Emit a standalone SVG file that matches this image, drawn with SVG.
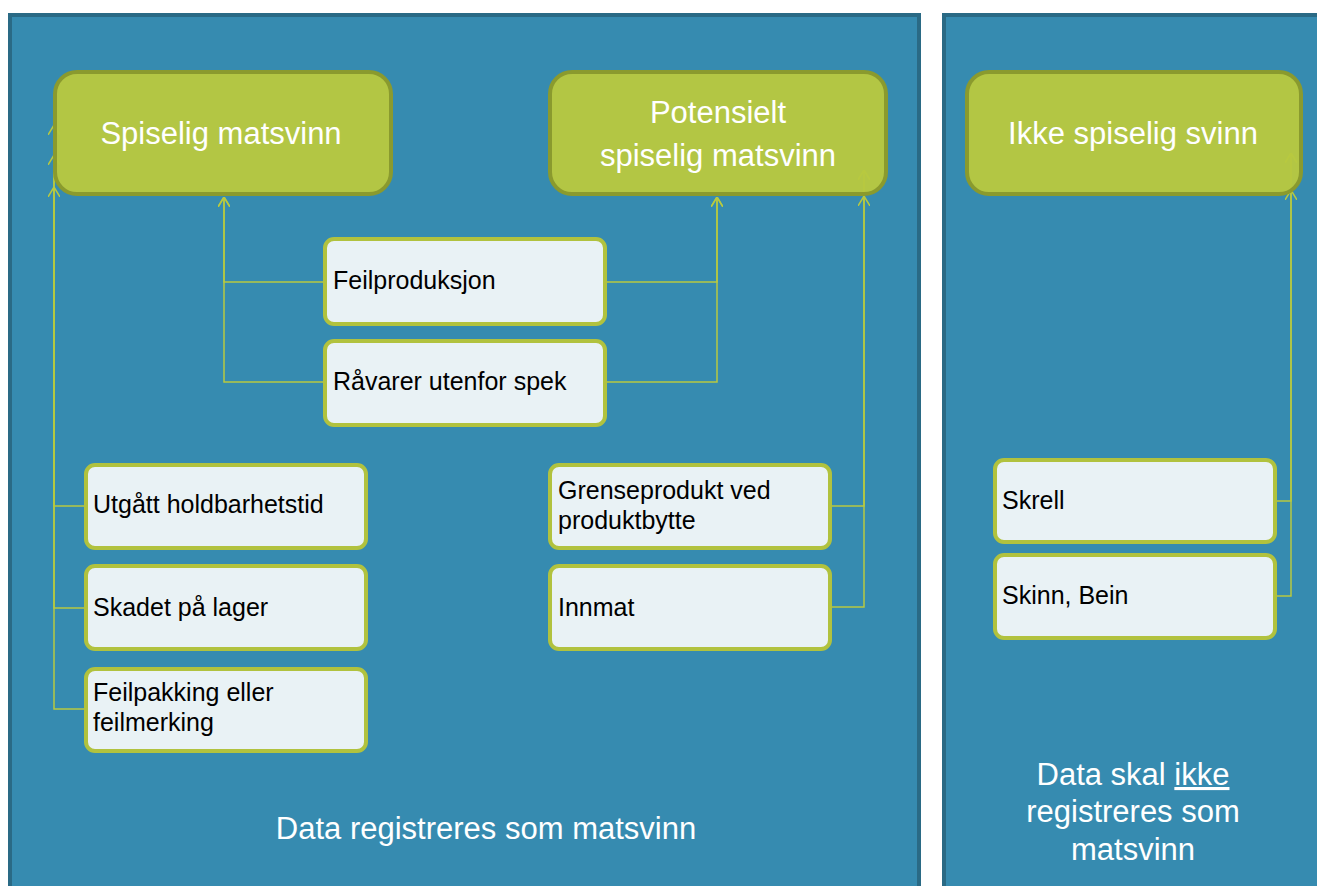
<svg xmlns="http://www.w3.org/2000/svg" width="1317" height="886" viewBox="0 0 1317 886">
<style>
.panel{fill:#368bb0;stroke:#2a6a85;stroke-width:4}
.head{fill:#b8c940;stroke:#8a9a2e;stroke-width:4;fill-opacity:0.96}
.htxt{font-family:"Liberation Sans",Arial,sans-serif;font-size:31px;fill:#ffffff;text-anchor:middle}
.item{fill:#e9f2f5;stroke:#b1c23e;stroke-width:4}
.itxt{font-family:"Liberation Sans",Arial,sans-serif;font-size:25px;fill:#000000}
.ftxt{font-family:"Liberation Sans",Arial,sans-serif;font-size:31px;fill:#ffffff;text-anchor:middle}
.conn{fill:none;stroke:#b8c940;stroke-width:1.5;marker-end:url(#arr)}
</style>
<defs>
<marker id="arr" viewBox="0 0 10 12" refX="10" refY="6" markerWidth="10" markerHeight="12" markerUnits="userSpaceOnUse" orient="auto">
<path d="M0,0 L10,6 L0,12" fill="none" stroke="#b8c940" stroke-width="1.5"/>
</marker>
</defs>
<rect width="1317" height="886" fill="#ffffff"/>
<g id="panel-left"><rect class="panel" x="10" y="15" width="909" height="880"/>
<text class="ftxt" x="486" y="839">Data registreres som matsvinn</text></g>
<g id="panel-right"><rect class="panel" x="944" y="15" width="380" height="880"/>
<text class="ftxt" x="1133" y="785">Data skal <tspan text-decoration="underline">ikke</tspan></text>
<text class="ftxt" x="1133" y="822">registreres som</text>
<text class="ftxt" x="1133" y="860">matsvinn</text></g>
<g id="connectors">
<path class="conn" d="M84,506 H54 V125"/>
<path class="conn" d="M84,608 H54 V155"/>
<path class="conn" d="M84,709 H54 V187"/>
<path class="conn" d="M323,282 H224 V197"/>
<path class="conn" d="M323,382 H224 V197"/>
<path class="conn" d="M607,282 H717 V197"/>
<path class="conn" d="M607,382 H717 V197"/>
<path class="conn" d="M832,506 H864 V196"/>
<path class="conn" d="M832,607 H864 V170"/>
<path class="conn" d="M1277,501 H1291 V190"/>
<path class="conn" d="M1277,596 H1291 V153"/>
</g>
<g id="spiselig"><rect class="head" x="55" y="72" width="336" height="122" rx="22"/>
<text class="htxt" x="221" y="144">Spiselig matsvinn</text></g>
<g id="potensielt"><rect class="head" x="550" y="72" width="336" height="122" rx="22"/>
<text class="htxt" x="718" y="123">Potensielt</text>
<text class="htxt" x="718" y="166">spiselig matsvinn</text></g>
<g id="ikke"><rect class="head" x="967" y="72" width="334" height="122" rx="22"/>
<text class="htxt" x="1133" y="144">Ikke spiselig svinn</text></g>
<g id="feilproduksjon"><rect class="item" x="325" y="239" width="280" height="85" rx="9"/>
<text class="itxt" x="333" y="289">Feilproduksjon</text></g>
<g id="ravarer"><rect class="item" x="325" y="341" width="280" height="84" rx="9"/>
<text class="itxt" x="333" y="390">Råvarer utenfor spek</text></g>
<g id="utgatt"><rect class="item" x="86" y="465" width="280" height="83" rx="9"/>
<text class="itxt" x="93" y="513">Utgått holdbarhetstid</text></g>
<g id="skadet"><rect class="item" x="86" y="566" width="280" height="83" rx="9"/>
<text class="itxt" x="93" y="616">Skadet på lager</text></g>
<g id="feilpakking"><rect class="item" x="86" y="669" width="280" height="82" rx="9"/>
<text class="itxt" x="93" y="701">Feilpakking eller</text>
<text class="itxt" x="93" y="731">feilmerking</text></g>
<g id="grenseprodukt"><rect class="item" x="550" y="465" width="280" height="83" rx="9"/>
<text class="itxt" x="558" y="499">Grenseprodukt ved</text>
<text class="itxt" x="558" y="529">produktbytte</text></g>
<g id="innmat"><rect class="item" x="550" y="566" width="280" height="83" rx="9"/>
<text class="itxt" x="558" y="616">Innmat</text></g>
<g id="skrell"><rect class="item" x="995" y="460" width="280" height="82" rx="9"/>
<text class="itxt" x="1002" y="509">Skrell</text></g>
<g id="skinn"><rect class="item" x="995" y="555" width="280" height="83" rx="9"/>
<text class="itxt" x="1002" y="604">Skinn, Bein</text></g>
</svg>
